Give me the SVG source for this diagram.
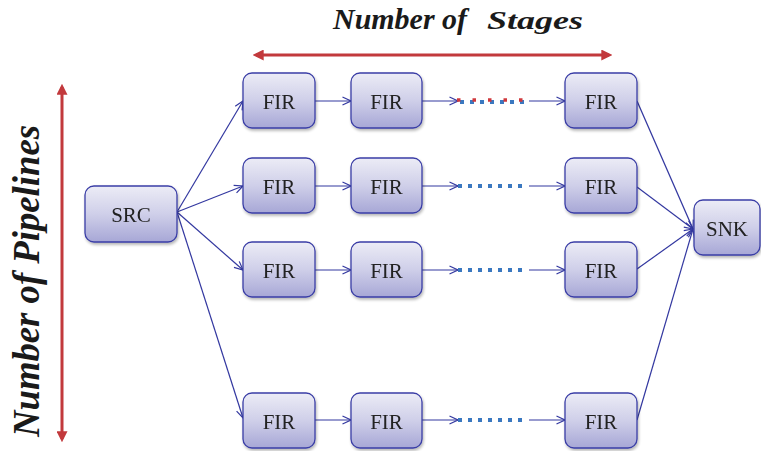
<svg xmlns="http://www.w3.org/2000/svg" width="761" height="451" viewBox="0 0 761 451">
  <defs>
    <linearGradient id="boxFill" x1="0" y1="0" x2="0" y2="1">
      <stop offset="0" stop-color="#ececf6"/>
      <stop offset="0.5" stop-color="#cfcfe9"/>
      <stop offset="1" stop-color="#a7a7d6"/>
    </linearGradient>
    <filter id="shadow" x="-20%" y="-20%" width="140%" height="150%">
      <feGaussianBlur in="SourceAlpha" stdDeviation="1.5"/>
      <feOffset dx="1" dy="2" result="b"/>
      <feComponentTransfer><feFuncA type="linear" slope="0.3"/></feComponentTransfer>
      <feMerge><feMergeNode/><feMergeNode in="SourceGraphic"/></feMerge>
    </filter>
    <marker id="open" viewBox="0 0 10 10" refX="9.5" refY="5" markerWidth="10" markerHeight="10" markerUnits="userSpaceOnUse" orient="auto">
      <path d="M1,1 L9.5,5 L1,9" fill="none" stroke="#3338a0" stroke-width="1.2"/>
    </marker>
    <marker id="redHead" viewBox="0 0 10 10" refX="7" refY="5" markerWidth="11" markerHeight="11" markerUnits="userSpaceOnUse" orient="auto-start-reverse">
      <path d="M0,0 L10,5 L0,10 Z" fill="#c2393c"/>
    </marker>
  </defs>
  <style>
    .box { fill: url(#boxFill); stroke: #3a3ea6; stroke-width: 1.3; }
    .lbl { font-family: "Liberation Serif", "Times New Roman", serif; font-size: 21px; fill: #222; text-anchor: middle; }
    .edge { fill: none; stroke: #3338a0; stroke-width: 1.2; marker-end: url(#open); }
    .dots { fill: none; stroke: #3a78c0; stroke-width: 4; stroke-dasharray: 4 6; }
    .reddots { fill: none; stroke: #d0383c; stroke-width: 3.5; stroke-dasharray: 3.5 12; }
    .axis { stroke: #c2393c; stroke-width: 3; marker-start: url(#redHead); marker-end: url(#redHead); }
    .title { font-family: "Liberation Serif", "Times New Roman", serif; font-weight: bold; font-style: italic; fill: #1a1a1a; }
  </style>

  <!-- axis annotations -->
  <g id="stages-axis">
    <line class="axis" x1="256" y1="55" x2="609" y2="55"/>
    <text class="title" y="29"><tspan x="333" font-size="30" textLength="134" lengthAdjust="spacingAndGlyphs">Number of</tspan><tspan x="487" font-size="26" textLength="96" lengthAdjust="spacingAndGlyphs">Stages</tspan></text>
  </g>
  <g id="pipelines-axis">
    <line class="axis" x1="62" y1="87" x2="62" y2="439"/>
    <text class="title" font-size="38" transform="translate(39,281) rotate(-90)" text-anchor="middle" textLength="312" lengthAdjust="spacingAndGlyphs">Number of Pipelines</text>
  </g>

  <!-- connectors -->
  <g id="connectors">
    <!-- fan-out from source -->
    <line class="edge" x1="177" y1="212" x2="243" y2="101"/>
    <line class="edge" x1="177" y1="212" x2="243" y2="186"/>
    <line class="edge" x1="177" y1="212" x2="243" y2="270"/>
    <line class="edge" x1="177" y1="212" x2="243" y2="418"/>
    <!-- stage-to-stage links -->
    <line class="edge" x1="315" y1="101" x2="351" y2="101"/>
    <line class="edge" x1="315" y1="186" x2="351" y2="186"/>
    <line class="edge" x1="315" y1="270" x2="351" y2="270"/>
    <line class="edge" x1="315" y1="420" x2="351" y2="420"/>
    <line class="edge" x1="422" y1="101" x2="458" y2="101"/>
    <line class="edge" x1="422" y1="186" x2="458" y2="186"/>
    <line class="edge" x1="422" y1="270" x2="458" y2="270"/>
    <line class="edge" x1="422" y1="420" x2="458" y2="420"/>
    <line class="dots" x1="460" y1="102" x2="526" y2="102"/>
    <line class="reddots" x1="457" y1="100" x2="524" y2="100"/>
    <line class="dots" x1="458" y1="186" x2="526" y2="186"/>
    <line class="dots" x1="458" y1="270" x2="526" y2="270"/>
    <line class="dots" x1="458" y1="420" x2="526" y2="420"/>
    <line class="edge" x1="529" y1="101" x2="565" y2="101"/>
    <line class="edge" x1="529" y1="186" x2="565" y2="186"/>
    <line class="edge" x1="529" y1="270" x2="565" y2="270"/>
    <line class="edge" x1="529" y1="420" x2="565" y2="420"/>
    <!-- fan-in to sink -->
    <line class="edge" x1="637" y1="101" x2="693" y2="229"/>
    <line class="edge" x1="637" y1="187" x2="693" y2="229"/>
    <line class="edge" x1="637" y1="269" x2="693" y2="229"/>
    <line class="edge" x1="637" y1="420" x2="693" y2="229"/>
  </g>

  <!-- source and sink -->
  <g id="src" filter="url(#shadow)">
    <rect class="box" x="85" y="186" width="92" height="56" rx="9"/>
    <text class="lbl" x="131" y="222">SRC</text>
  </g>
  <g id="snk" filter="url(#shadow)">
    <rect class="box" x="694" y="200" width="66" height="55" rx="9"/>
    <text class="lbl" x="727" y="236">SNK</text>
  </g>

  <!-- pipeline 1 -->
  <g id="fir-1-1" filter="url(#shadow)"><rect class="box" x="243" y="73" width="72" height="55" rx="9"/><text class="lbl" x="279" y="109">FIR</text></g>
  <g id="fir-1-2" filter="url(#shadow)"><rect class="box" x="351" y="73" width="71" height="55" rx="9"/><text class="lbl" x="386.5" y="109">FIR</text></g>
  <g id="fir-1-n" filter="url(#shadow)"><rect class="box" x="565" y="73" width="72" height="55" rx="9"/><text class="lbl" x="601" y="109">FIR</text></g>

  <!-- pipeline 2 -->
  <g id="fir-2-1" filter="url(#shadow)"><rect class="box" x="243" y="158" width="72" height="55" rx="9"/><text class="lbl" x="279" y="194">FIR</text></g>
  <g id="fir-2-2" filter="url(#shadow)"><rect class="box" x="351" y="158" width="71" height="55" rx="9"/><text class="lbl" x="386.5" y="194">FIR</text></g>
  <g id="fir-2-n" filter="url(#shadow)"><rect class="box" x="565" y="158" width="72" height="55" rx="9"/><text class="lbl" x="601" y="194">FIR</text></g>

  <!-- pipeline 3 -->
  <g id="fir-3-1" filter="url(#shadow)"><rect class="box" x="243" y="242" width="72" height="55" rx="9"/><text class="lbl" x="279" y="278">FIR</text></g>
  <g id="fir-3-2" filter="url(#shadow)"><rect class="box" x="351" y="242" width="71" height="55" rx="9"/><text class="lbl" x="386.5" y="278">FIR</text></g>
  <g id="fir-3-n" filter="url(#shadow)"><rect class="box" x="565" y="242" width="72" height="55" rx="9"/><text class="lbl" x="601" y="278">FIR</text></g>

  <!-- pipeline N -->
  <g id="fir-4-1" filter="url(#shadow)"><rect class="box" x="243" y="393" width="72" height="55" rx="9"/><text class="lbl" x="279" y="429">FIR</text></g>
  <g id="fir-4-2" filter="url(#shadow)"><rect class="box" x="351" y="393" width="71" height="55" rx="9"/><text class="lbl" x="386.5" y="429">FIR</text></g>
  <g id="fir-4-n" filter="url(#shadow)"><rect class="box" x="565" y="393" width="72" height="55" rx="9"/><text class="lbl" x="601" y="429">FIR</text></g>
</svg>
